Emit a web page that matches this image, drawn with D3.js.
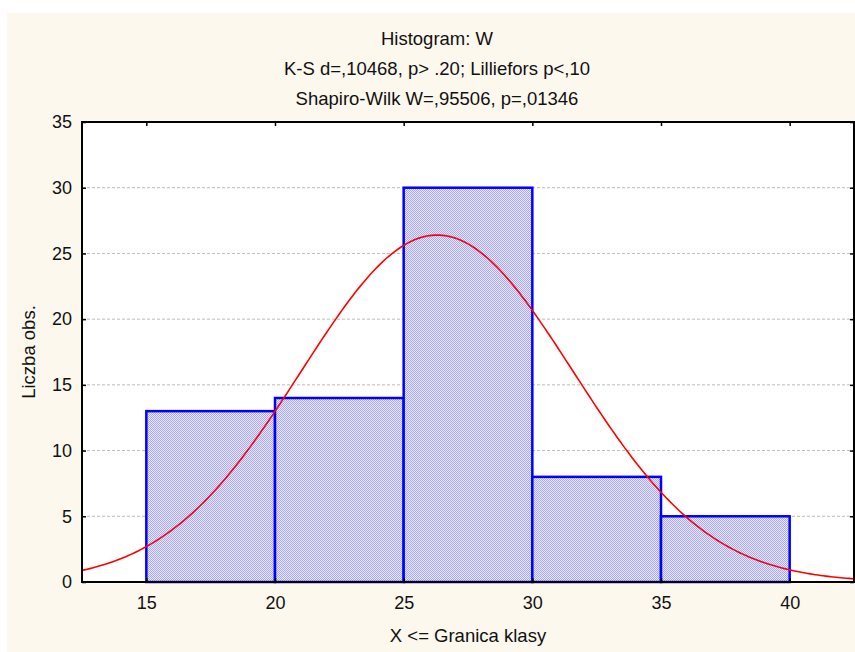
<!DOCTYPE html>
<html>
<head>
<meta charset="utf-8">
<script src="https://cdn.jsdelivr.net/npm/d3@7"></script>
<style>
  body { margin: 0; background: #fff; }
  text { font-family: "Liberation Sans", Arial, sans-serif; fill: #111; }
</style>
</head>
<body>
<div id="chart"></div>
<script>
// histogram bins (upper class limits) and counts
const binStarts = [15, 20, 25, 30, 35];
const binWidth = 5;
const counts = [13, 14, 30, 8, 5];
const xTicks = [15, 20, 25, 30, 35, 40];
const yTicks = [0, 5, 10, 15, 20, 25, 30, 35];
// fitted normal curve parameters
const fitMean = 26.3;
const fitSd = 5.29;
const titles = ["Histogram: W", "K-S d=,10468, p> .20; Lilliefors p<,10", "Shapiro-Wilk W=,95506, p=,01346"];

const width = 855, height = 652;
const margin = { left: 82, right: 1, top: 122, bottom: 70 };

const svg = d3.select("#chart").append("svg")
    .attr("width", width)
    .attr("height", height);

// cream panel
svg.append("rect")
    .attr("x", 7).attr("y", 13)
    .attr("width", width - 7).attr("height", height - 13)
    .attr("fill", "#fdf8ee");

const defs = svg.append("defs");
const pat = defs.append("pattern")
    .attr("id", "dither")
    .attr("width", 2).attr("height", 2)
    .attr("patternUnits", "userSpaceOnUse");
pat.append("rect").attr("width", 2).attr("height", 2).attr("fill", "#ebebff");
pat.append("rect").attr("width", 1).attr("height", 1).attr("fill", "#a6a6ff");
pat.append("rect").attr("x", 1).attr("y", 1).attr("width", 1).attr("height", 1).attr("fill", "#a6a6ff");

const x = d3.scaleLinear().domain([12.5, 42.5]).range([margin.left, width - margin.right]);
const y = d3.scaleLinear().domain([0, 35]).range([height - margin.bottom, margin.top]);

const plotW = x.range()[1] - x.range()[0];
const plotH = y.range()[0] - y.range()[1];

svg.append("rect")
    .attr("x", margin.left).attr("y", margin.top)
    .attr("width", plotW).attr("height", plotH)
    .attr("fill", "#fff");

// gridlines
svg.append("g")
    .selectAll("line")
    .data(yTicks.slice(1, -1))
    .enter().append("line")
    .attr("x1", margin.left).attr("x2", x.range()[1])
    .attr("y1", d => y(d)).attr("y2", d => y(d))
    .attr("stroke", "#bbb")
    .attr("stroke-dasharray", "3,2")
    .attr("stroke-width", 1);

// bars
svg.append("g")
    .selectAll("rect")
    .data(counts)
    .enter().append("rect")
    .attr("x", (d, i) => x(binStarts[i]))
    .attr("y", d => y(d))
    .attr("width", (d, i) => x(binStarts[i] + binWidth) - x(binStarts[i]))
    .attr("height", d => y(0) - y(d))
    .attr("fill", "url(#dither)")
    .attr("stroke", "#0000ff")
    .attr("stroke-width", 2.5);

// normal curve
const total = d3.sum(counts);
const curveX = d3.range(12.5, 42.51, 0.1);
const normal = v => total * binWidth / (fitSd * Math.sqrt(2 * Math.PI)) *
    Math.exp(-0.5 * Math.pow((v - fitMean) / fitSd, 2));
svg.append("path")
    .datum(curveX)
    .attr("fill", "none")
    .attr("stroke", "#ff0000")
    .attr("stroke-width", 1.6)
    .attr("d", d3.line().x(d => x(d)).y(d => y(normal(d))));

// axes (ticks pointing inward)
svg.append("g")
    .attr("transform", `translate(0,${y(0)})`)
    .call(d3.axisBottom(x).tickValues(xTicks).tickSize(-4).tickPadding(14).tickFormat(d3.format("d")))
    .call(g => g.select(".domain").remove());
svg.append("g")
    .attr("transform", `translate(0,${margin.top})`)
    .call(d3.axisTop(x).tickValues(xTicks).tickSize(-4).tickFormat(""))
    .call(g => g.select(".domain").remove());
svg.append("g")
    .attr("transform", `translate(${margin.left},0)`)
    .call(d3.axisLeft(y).tickValues(yTicks).tickSize(-4).tickPadding(10).tickFormat(d3.format("d")))
    .call(g => g.select(".domain").remove());
svg.append("g")
    .attr("transform", `translate(${x.range()[1]},0)`)
    .call(d3.axisRight(y).tickValues(yTicks).tickSize(-4).tickFormat(""))
    .call(g => g.select(".domain").remove());

svg.selectAll(".tick line").attr("stroke", "#000").attr("stroke-width", 1.5);
svg.selectAll(".tick text")
    .attr("font-size", 18)
    .attr("font-family", "Liberation Sans, Arial, sans-serif")
    .attr("fill", "#111");

// frame
svg.append("rect")
    .attr("x", margin.left).attr("y", margin.top)
    .attr("width", plotW).attr("height", plotH)
    .attr("fill", "none")
    .attr("stroke", "#000")
    .attr("stroke-width", 2);

// titles
svg.append("g")
    .selectAll("text")
    .data(titles)
    .enter().append("text")
    .attr("x", 437)
    .attr("y", (d, i) => 45 + i * 30)
    .attr("text-anchor", "middle")
    .attr("font-size", 18.5)
    .text(d => d);

svg.append("text")
    .attr("x", (x.range()[0] + x.range()[1]) / 2)
    .attr("y", 642)
    .attr("text-anchor", "middle")
    .attr("font-size", 18.5)
    .text("X <= Granica klasy");

svg.append("text")
    .attr("transform", `translate(35,${(y.range()[0] + y.range()[1]) / 2}) rotate(-90)`)
    .attr("text-anchor", "middle")
    .attr("font-size", 18.5)
    .text("Liczba obs.");
</script>
</body>
</html>
